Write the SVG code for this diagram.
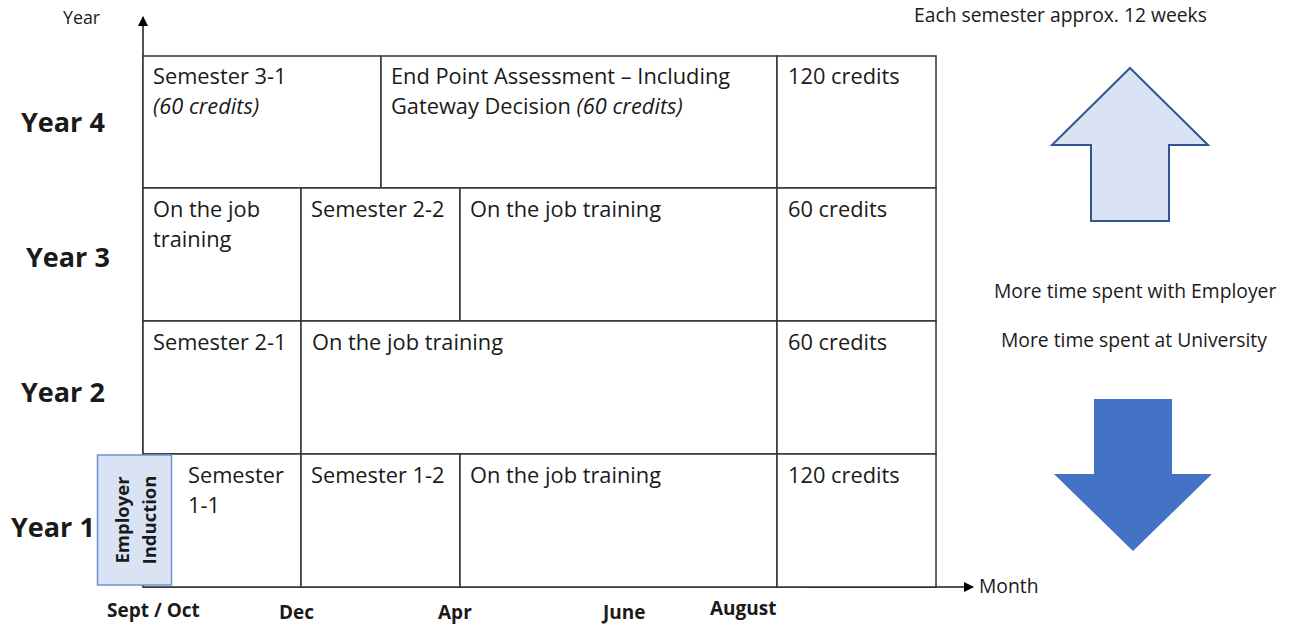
<svg xmlns="http://www.w3.org/2000/svg" width="1296" height="625" viewBox="0 0 1296 625">
  <style>
    text { font-family: "Open Sans", Lato, "Liberation Sans", sans-serif; fill: #1a1a1a; }
    .cell { fill: #ffffff; stroke: #333333; stroke-width: 1.5; }
    .lbl { font-size: 21.8px; }
    .it { font-style: italic; }
    .year { font-size: 27px; font-weight: 700; }
    .month { font-size: 19px; font-weight: 700; }
    .note { font-size: 19.3px; }
    .axis { stroke: #1a1a1a; stroke-width: 1.5; fill: none; }
  </style>
  <defs>
    <marker id="tri" viewBox="0 0 10 10" refX="9" refY="5" markerWidth="10" markerHeight="10" markerUnits="userSpaceOnUse" orient="auto">
      <path d="M0,0 L10,5 L0,10 Z" fill="#000000"/>
    </marker>
  </defs>
  <rect width="1296" height="625" fill="#ffffff"/>

  <!-- axes -->
  <g id="connectors">
    <line class="axis" x1="143" y1="587" x2="143" y2="17" marker-end="url(#tri)"/>
    <line class="axis" x1="143" y1="587" x2="973" y2="587" marker-end="url(#tri)"/>
    <line x1="806" y1="587" x2="936" y2="587" stroke="#1a1a1a" stroke-width="2.2"/>
  </g>
  <text x="63" y="24" style="font-size:17.8px">Year</text>
  <text x="979" y="593" style="font-size:19.3px">Month</text>

  <!-- Year 4 -->
  <g id="y4-sem31">
    <rect class="cell" x="143" y="56" width="238" height="132"/>
    <text x="153" y="84" class="lbl">Semester 3-1</text>
    <text x="153" y="114" class="lbl it">(60 credits)</text>
  </g>
  <g id="y4-epa">
    <rect class="cell" x="381" y="56" width="396" height="132"/>
    <text x="391" y="84" class="lbl">End Point Assessment – Including</text>
    <text x="391" y="114" class="lbl">Gateway Decision <tspan class="it">(60 credits)</tspan></text>
  </g>
  <g id="y4-credits">
    <rect class="cell" x="777" y="56" width="159" height="132"/>
    <text x="788" y="84" class="lbl">120 credits</text>
  </g>

  <!-- Year 3 -->
  <g id="y3-ojt1">
    <rect class="cell" x="143" y="188" width="158" height="133"/>
    <text x="153" y="217" class="lbl">On the job</text>
    <text x="153" y="247" class="lbl">training</text>
  </g>
  <g id="y3-sem22">
    <rect class="cell" x="301" y="188" width="159" height="133"/>
    <text x="311" y="217" class="lbl">Semester 2-2</text>
  </g>
  <g id="y3-ojt2">
    <rect class="cell" x="460" y="188" width="317" height="133"/>
    <text x="470" y="217" class="lbl">On the job training</text>
  </g>
  <g id="y3-credits">
    <rect class="cell" x="777" y="188" width="159" height="133"/>
    <text x="788" y="217" class="lbl">60 credits</text>
  </g>

  <!-- Year 2 -->
  <g id="y2-sem21">
    <rect class="cell" x="143" y="321" width="158" height="133"/>
    <text x="153" y="350" class="lbl">Semester 2-1</text>
  </g>
  <g id="y2-ojt">
    <rect class="cell" x="301" y="321" width="476" height="133"/>
    <text x="312" y="350" class="lbl">On the job training</text>
  </g>
  <g id="y2-credits">
    <rect class="cell" x="777" y="321" width="159" height="133"/>
    <text x="788" y="350" class="lbl">60 credits</text>
  </g>

  <!-- Year 1 -->
  <g id="y1-sem11">
    <rect class="cell" x="143" y="454" width="158" height="133"/>
    <text x="188" y="483" class="lbl">Semester</text>
    <text x="188" y="513" class="lbl">1-1</text>
  </g>
  <g id="y1-sem12">
    <rect class="cell" x="301" y="454" width="159" height="133"/>
    <text x="311" y="483" class="lbl">Semester 1-2</text>
  </g>
  <g id="y1-ojt">
    <rect class="cell" x="460" y="454" width="317" height="133"/>
    <text x="470" y="483" class="lbl">On the job training</text>
  </g>
  <g id="y1-credits">
    <rect class="cell" x="777" y="454" width="159" height="133"/>
    <text x="788" y="483" class="lbl">120 credits</text>
  </g>

  <g id="employer-induction">
    <rect x="97.5" y="455" width="74" height="130" fill="#dae3f3" stroke="#7292d0" stroke-width="1.5"/>
    <text transform="translate(129,520) rotate(-90)" text-anchor="middle" style="font-size:18.5px;font-weight:700">Employer</text>
    <text transform="translate(156,520) rotate(-90)" text-anchor="middle" style="font-size:18.5px;font-weight:700">Induction</text>
  </g>

  <!-- year labels -->
  <g id="year-labels">
    <text x="21" y="132" class="year">Year 4</text>
    <text x="26" y="267" class="year">Year 3</text>
    <text x="21" y="402" class="year">Year 2</text>
    <text x="11" y="537" class="year">Year 1</text>
  </g>

  <!-- month labels -->
  <g id="month-labels">
    <text x="107" y="617" class="month">Sept / Oct</text>
    <text x="279" y="619" class="month">Dec</text>
    <text x="438" y="619" class="month">Apr</text>
    <text x="603" y="619" class="month">June</text>
    <text x="710" y="615" class="month">August</text>
  </g>

  <!-- side notes and arrows -->
  <text x="914" y="22" class="note">Each semester approx. 12 weeks</text>
  <g id="arrow-up">
    <path d="M1130,68 L1208,145 L1169,145 L1169,221 L1091,221 L1091,145 L1052,145 Z" fill="#dae3f3" stroke="#2f5597" stroke-width="2" stroke-linejoin="miter"/>
  </g>
  <text x="994" y="298" class="note">More time spent with Employer</text>
  <text x="1001" y="347" class="note">More time spent at University</text>
  <g id="arrow-down">
    <path d="M1094,399 L1172,399 L1172,474 L1212,474 L1133,551 L1054,474 L1094,474 Z" fill="#4472c4"/>
  </g>
</svg>
